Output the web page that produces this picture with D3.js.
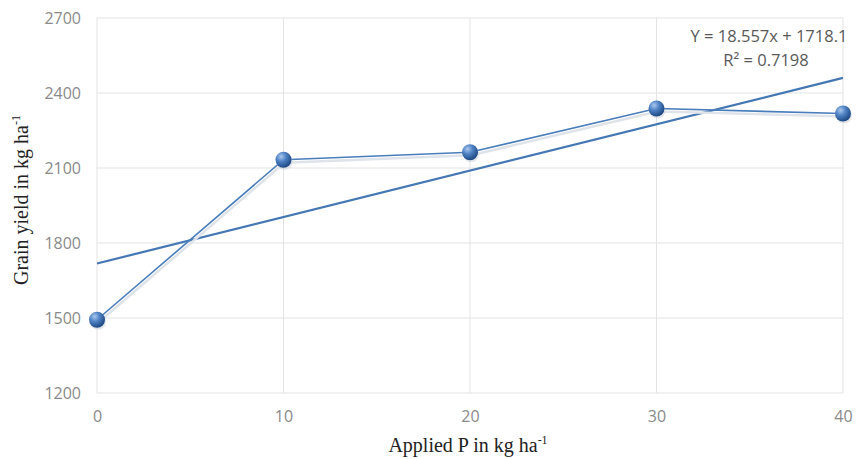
<!DOCTYPE html>
<html><head><meta charset="utf-8">
<script src="https://cdn.jsdelivr.net/npm/d3@7"></script>
<style>body{margin:0;background:#fff}svg{display:block}</style>
</head><body>
<svg id="c" width="857" height="459"></svg>
<script>
const xValues = [0, 10, 20, 30, 40];
const yieldValues = [1493, 2133, 2163, 2338, 2318];
const xTicks = [0, 10, 20, 30, 40];
const yTicks = [1200, 1500, 1800, 2100, 2400, 2700];
const trendSlope = 18.557, trendIntercept = 1718.1;
const eqLine1 = "Y = 18.557x + 1718.1";
const eqLine2 = "R² = 0.7198";

const svg = d3.select("#c");
const x = d3.scaleLinear().domain([0, 40]).range([97, 843]);
const y = d3.scaleLinear().domain([1200, 2700]).range([393, 18]);

const defs = svg.append("defs");
const g = defs.append("radialGradient").attr("id","ball").attr("cx","35%").attr("cy","30%").attr("r","70%");
g.append("stop").attr("offset","0%").attr("stop-color","#a9c8ee");
g.append("stop").attr("offset","45%").attr("stop-color","#4f82c4");
g.append("stop").attr("offset","100%").attr("stop-color","#1f4a85");

// grid
svg.append("g").selectAll("line").data(yTicks).join("line")
  .attr("x1", x(0)).attr("x2", x(40)).attr("y1", d=>y(d)).attr("y2", d=>y(d))
  .attr("stroke", "#e3e3e3").attr("stroke-width", 1);
svg.append("g").selectAll("line").data(xTicks).join("line")
  .attr("x1", d=>x(d)).attr("x2", d=>x(d)).attr("y1", y(1200)).attr("y2", y(2700))
  .attr("stroke", "#e3e3e3").attr("stroke-width", 1);

const yAxis = svg.append("g").attr("transform", `translate(${x(0)},0)`)
  .call(d3.axisLeft(y).tickValues(yTicks).tickFormat(d3.format("d")).tickSize(0).tickPadding(16));
const xAxis = svg.append("g").attr("transform", `translate(0,${y(1200)})`)
  .call(d3.axisBottom(x).tickValues(xTicks).tickFormat(d3.format("d")).tickSize(0).tickPadding(18));
[yAxis, xAxis].forEach(a => {
  a.select(".domain").remove();
  a.selectAll("text").attr("fill","#8a8a8a").style("font-family","'Open Sans', sans-serif").style("font-size","16px");
});

// trendline
svg.append("line")
  .attr("x1", x(0)).attr("y1", y(trendIntercept))
  .attr("x2", x(40)).attr("y2", y(trendIntercept + trendSlope*40))
  .attr("stroke", "#4477b4").attr("stroke-width", 2.2);

// series line with shadow
const pts = xValues.map((v,i)=>[v, yieldValues[i]]);
const lineGen = d3.line().x(d=>x(d[0])).y(d=>y(d[1]));
svg.append("path").datum(pts).attr("d", lineGen).attr("fill","none")
  .attr("stroke","#dfe4ea").attr("stroke-width",2.5).attr("transform","translate(1,3)");
svg.append("path").datum(pts).attr("d", lineGen).attr("fill","none")
  .attr("stroke","#4a7ebb").attr("stroke-width",1.6);

// markers
svg.append("g").selectAll("circle").data(pts).join("circle")
  .attr("cx", d=>x(d[0])+1).attr("cy", d=>y(d[1])+2).attr("r", 8).attr("fill","#c8ced6").attr("opacity",0.5);
svg.append("g").selectAll("circle").data(pts).join("circle")
  .attr("cx", d=>x(d[0])).attr("cy", d=>y(d[1])).attr("r", 8).attr("fill","url(#ball)");

// equation
svg.append("text").attr("x", 769).attr("y", 42).attr("text-anchor","middle")
  .attr("fill","#595959").style("font-family","'Open Sans', sans-serif").style("font-size","16.5px").text(eqLine1);
svg.append("text").attr("x", 766).attr("y", 66).attr("text-anchor","middle")
  .attr("fill","#595959").style("font-family","'Open Sans', sans-serif").style("font-size","16.5px").text(eqLine2);

// axis titles
const xt = svg.append("text").attr("x", 468).attr("y", 452).attr("text-anchor","middle")
  .attr("fill","#222").style("font-family","'Liberation Serif', serif").style("font-size","20px");
xt.append("tspan").text("Applied P in kg ha");
xt.append("tspan").attr("dy",-8).style("font-size","12px").text("-1");

const yt = svg.append("text").attr("transform","translate(28,200) rotate(-90)").attr("text-anchor","middle")
  .attr("fill","#222").style("font-family","'Liberation Serif', serif").style("font-size","20px");
yt.append("tspan").text("Grain yield in kg ha");
yt.append("tspan").attr("dy",-8).style("font-size","12px").text("-1");
</script>
</body></html>
